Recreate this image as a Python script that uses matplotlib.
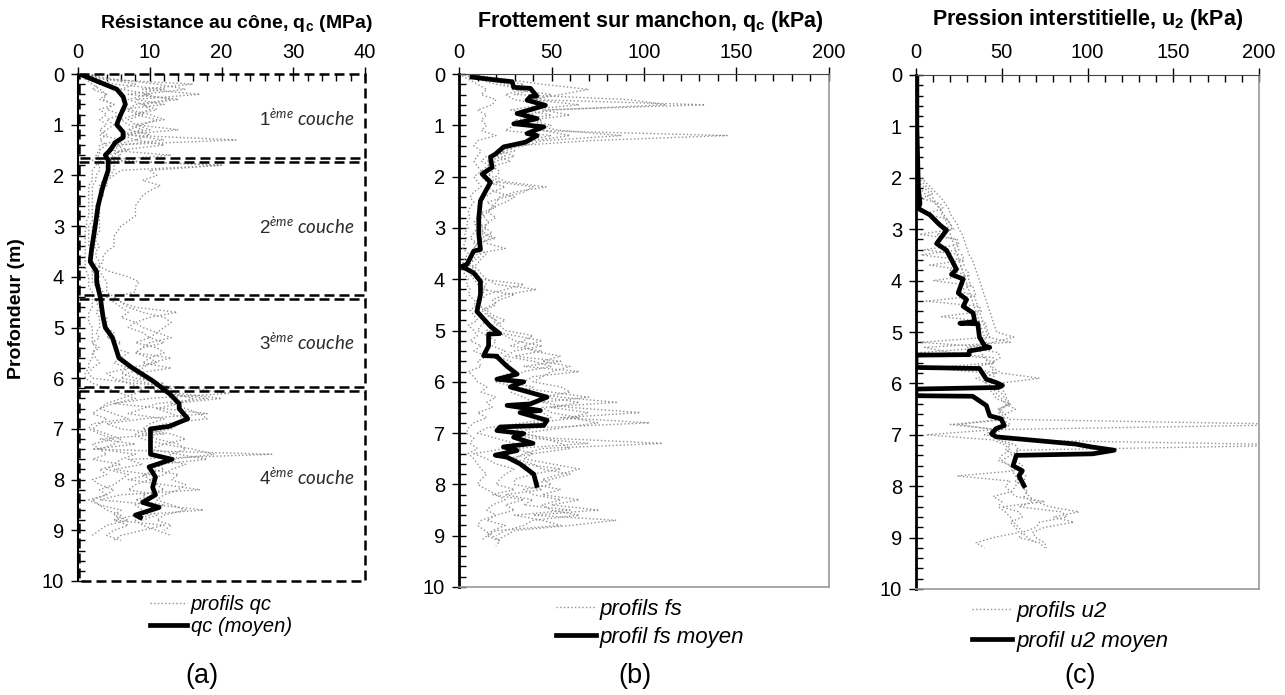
import numpy as np
import matplotlib
matplotlib.use("Agg")
import matplotlib.pyplot as plt
from matplotlib.lines import Line2D
from matplotlib.patches import Rectangle
from matplotlib.ticker import MultipleLocator

plt.rcParams['font.family'] = ['Liberation Sans', 'DejaVu Sans']
plt.rcParams['mathtext.fontset'] = 'custom'
plt.rcParams['mathtext.rm'] = 'Liberation Sans'
plt.rcParams['mathtext.bf'] = 'Liberation Sans:bold'
plt.rcParams['mathtext.it'] = 'Lato:italic'

nan = np.nan
# profondeurs communes des profils individuels (pas de 0.1 m)
depth_grid = np.round(np.arange(0, 9.25, 0.1), 1)

# ---------- (a) qc ----------
qc_mean_z = [0, 0.3, 0.45, 0.6, 0.85, 1.0, 1.15, 1.25, 1.35, 1.5, 1.6, 1.7, 1.9, 2.2, 2.6, 3.0,
             3.45, 3.7, 3.9, 4.1, 4.4, 4.8, 5.0, 5.2, 5.6, 5.8, 6.05, 6.3, 6.5, 6.6, 6.8, 6.95,
             7.0, 7.5, 7.6, 7.75, 7.95, 8.15, 8.3, 8.45, 8.55, 8.7, 8.75]
qc_mean = [0.2, 5.4, 6.3, 6.6, 5.8, 5.4, 6.3, 6.3, 5.2, 4.5, 3.8, 4.2, 4.2, 3.5, 2.8, 2.4,
           1.9, 1.7, 2.6, 2.6, 3.1, 3.5, 3.8, 4.8, 5.7, 7.6, 10.4, 12.7, 14.1, 14.1, 15.3, 12.7,
           10.1, 10.1, 13.1, 9.9, 10.8, 10.4, 10.8, 9.0, 11.3, 8.0, 8.7]

qc_p1 = [0.5, 3, 16, 9, 17, 8, 12, 6, 9, 7,
         8, 14, 6, 22, 5, 4, 13, 4, 20, 6,
         5, 4, 4, 3, 3, 3, 3, 2.5, 2.5, 2.5,
         2.5, 2.5, 2, 2, 2, 2, 2, 2, 3, 2,
         3, 2.5, 2.5, 3, 4, 3, 3, 2.5, 3, 3,
         3, 2.5, 3, 2, 3, 2, 2.5, 3, 2, 1.5,
         2, 8, 16, 21, 10, 5, 12, 18, 9, 4,
         6, 12, 3, 8, 2, 27, 7, 9, 5, 10,
         7, 12, 17, 6, 3, 11, 17.5, 8, 5, 12,
         9, 6, 5]
qc_p2 = [0.3, 2, 5, 12, 7, 14, 9, 10, 8, 11,
         9, 7, 10, 8, 12, 6, 5, 4, 20, 10,
         11, 9, 11.5, 10, 9, 8.5, 8, 8, 8, 7,
         6, 5.5, 5, 5, 5, 4, 3.5, 3.5, 3, 4.5,
         7, 8.5, 8, 8, 5, 6, 8, 13.8, 10, 8,
         9, 11, 10, 12, 9, 8, 13, 10, 9, 7,
         6, 10, 12, 13, 16, 14, 11, 13, 15, 14,
         13, 9, 11, 14, 15, 13, 12, 15, 13, 12,
         10, 11, 12, 9, 10, 8, 9, 10, 8, 9,
         11, 13, nan]
qc_p3 = [0.2, 1, 2, 3, 4, 3.5, 5, 4, 6, 4,
         5, 4, 3, 6, 3, 3, 2.5, 3, 2.5, 2,
         2, 2, 1.5, 1.5, 1.5, 1.5, 1.5, 1.5, 1.5, 1.2,
         1.2, 1, 1, 1, 1, 1, 1, 1, 1, 1.2,
         1.5, 1.5, 1.5, 2, 2, 2, 2, 1.5, 1.5, 1.5,
         2, 2, 2, 2, 2.5, 2, 2, 1.5, 1.5, 1,
         1, 2, 4, 6, 8, 5, 3, 2, 4, 3,
         2, 4, 6, 5, 3, 8, 6, 5, 4, 7,
         6, 5, 3, 4, 2, 3, 6, 5, 7, 4,
         3, 2, nan]
qc_p4 = [0.4, 4, 8, 6, 10, 7, 9, 11, 8, 6,
         7, 9, 6, 8, 5, 7, 4, 3, 4, 4,
         4, 3.5, 3, 3, 3, 3, 2.5, 2.5, 2.5, 2.5,
         2, 2, 2, 2, 2.5, 2, 2, 2, 2, 2.5,
         2.5, 3, 3, 3.5, 4, 5, 6, 7, 6, 8,
         7, 9, 10, 8, 11, 12, 10, 9, 13, 8,
         9, 11, 13, 12, 18, 11, 9, 7, 12, 10,
         9, 13, 15, 12, 10, 14, 18, 11, 12, 9,
         10, 8, 7, 11, 8, 12, 10, 11, 9, nan,
         nan, nan, nan]
qc_p5 = [0.2, 1.5, 3, 2, 4, 3, 5, 3, 4, 3,
         4, 3, 4, 3, 4, 3, 3, 2, 3, 3,
         2.5, 2.5, 2, 2, 2, 2, 2, 2, 2, 2,
         1.5, 1.5, 1.5, 1.5, 1.5, 2, 1.5, 1.5, 2, 2,
         2, 2, 2.5, 3, 3, 2.5, 3, 3, 4, 4,
         4, 5, 4, 6, 5, 7, 6, 5, 7, 4,
         5, 7, 9, 8, 6, 4, 3, 5, 7, 2,
         1.5, 3, 5, 2, 3, 4, 2, 6, 3, 4,
         2, 3, 5, 4, 1.5, 3, 4, 6, 5, 7,
         5, 4, 6]
qc_p6 = [0.3, 5, 11, 15, 9, 13, 8, 7, 10, 12,
         8, 10, 7, 12, 6, 5, 6, 4, 5, 5,
         4.5, 4, 4, 3.5, 3.5, 3, 3, 3, 3, 3,
         3, 3, 2.5, 2.5, 3, 2.5, 2.5, 3, 3, 3,
         3.5, 4, 4, 4, 5, 6, 7, 9, 12, 13,
         12, 11, 13, 10, 9, 8, 10, 11, 7, 6,
         8, 12, 10, 14, 20, 13, 15, 17, 18, 12,
         10, 8, 9, 12, 16, 19, 13, 12, 10, 14,
         13, 15, 14, 12, 11, 13, 15, 12, 11, 13,
         12, nan, nan]

# couches (haut, bas) en m
layer_top = [0, 1.73, 4.44, 6.25]
layer_bot = [1.65, 4.36, 6.17, 10]
layer_labels = [r'$\mathit{1^{ème}}$ couche', r'$\mathit{2^{ème}}$ couche',
                r'$\mathit{3^{ème}}$ couche', r'$\mathit{4^{ème}}$ couche']
layer_label_z = [0.87, 3.0, 5.29, 7.95]

# ---------- (b) fs ----------
fs_mean_z = [0.06, 0.12, 0.15, 0.26, 0.28, 0.43, 0.44, 0.51, 0.61, 0.77, 0.87, 0.97, 1.03, 1.16,
             1.2, 1.33, 1.42, 1.56, 1.62, 1.82, 1.95, 2.11, 2.47, 2.8, 3.12, 3.42, 3.45, 3.71,
             3.75, 3.88, 4.04, 4.3, 4.63, 4.92, 5.06, 5.07, 5.3, 5.49, 5.5, 5.51, 5.7, 5.85,
             5.95, 6.0, 6.1, 6.3, 6.43, 6.46, 6.56, 6.6, 6.75, 6.85, 6.88, 6.95, 7.01, 7.08,
             7.2, 7.27, 7.34, 7.43, 7.47, 7.6, 7.8, 8.02]
fs_mean = [7, 20.6, 28.7, 29.6, 38.6, 42, 38.6, 36.8, 46.7, 31.4, 42.2, 29.6, 45.8, 36.8,
           42.2, 35.9, 24.2, 19.7, 17, 17.9, 12.5, 17, 11.6, 10.7, 10.7, 11.6, 8, 4.3,
           1.6, 8, 11.6, 11.6, 9.7, 17, 22, 16, 16, 13.3, 20.5, 20.5, 26, 31.4,
           20.5, 35, 27.7, 47.6, 38.6, 26, 44, 33, 47.6, 45.8, 22.3, 20.5, 35, 29.5,
           40, 24, 31.4, 19.6, 26, 33, 40.4, 42]

fs_p1 = [2, 20, 35, 28, 50, 40, 133, 45, 60, 38,
         50, 40, 145, 70, 30, 25, 20, 28, 18, 22,
         20, 25, 47, 30, 22, 20, 18, 16, 20, 15,
         14, 18, 12, 15, 25, 10, 8, 6, 10, 12,
         15, 20, 42, 25, 18, 20, 14, 16, 20, 22,
         25, 40, 35, 28, 45, 30, 55, 35, 65, 40,
         35, 30, 50, 70, 45, 60, 98, 55, 103, 40,
         30, 50, 110, 45, 35, 30, 40, 45, 60, 50,
         40, 55, 45, 65, 50, 75, 40, 85, 60, 30,
         25, 20, nan]
fs_p2 = [5, 15, 25, 40, 30, 92, 112, 50, 35, 45,
         40, 55, 88, 45, 35, 20, 25, 15, 20, 18,
         15, 20, 40, 35, 25, 15, 20, 12, 14, 16,
         12, 14, 20, 10, 8, 12, 10, 5, 8, 10,
         12, 35, 25, 15, 12, 10, 15, 18, 25, 20,
         18, 25, 30, 45, 30, 25, 40, 50, 35, 30,
         25, 40, 35, 55, 85, 45, 50, 65, 40, 35,
         25, 40, 70, 30, 40, 25, 35, 55, 40, 30,
         30, 45, 25, 40, 35, 60, 30, 45, 55, 20,
         15, 22, 20]
fs_p3 = [0, 5, 10, 15, 12, 20, 18, 10, 15, 12,
         15, 12, 20, 10, 8, 12, 10, 8, 10, 12,
         8, 10, 12, 8, 6, 8, 6, 5, 6, 4,
         5, 3, 4, 3, 2, 5, 3, 2, 2, 3,
         5, 4, 6, 5, 8, 10, 6, 8, 10, 5,
         8, 10, 6, 12, 8, 15, 10, 12, 5, 8,
         10, 15, 12, 20, 15, 18, 10, 15, 8, 5,
         4, 8, 6, 10, 5, 8, 10, 12, 15, 12,
         10, 15, 20, 25, 18, 15, 20, 12, 10, 14,
         18, 22, nan]
fs_p4 = [3, 25, 45, 70, 55, 40, 65, 35, 50, 30,
         35, 45, 60, 40, 28, 22, 30, 20, 15, 12,
         18, 22, 15, 20, 30, 25, 18, 15, 12, 10,
         15, 12, 18, 8, 10, 15, 12, 10, 6, 8,
         10, 15, 12, 30, 22, 18, 12, 15, 20, 18,
         15, 30, 45, 35, 40, 55, 45, 60, 50, 45,
         40, 55, 60, 45, 65, 50, 70, 60, 75, 55,
         35, 45, 55, 60, 40, 35, 50, 65, 55, 45,
         50, 35, 40, 55, 45, 50, 65, 40, 35, 25,
         20, nan, nan]
fs_p5 = [1, 10, 20, 35, 25, 30, 45, 28, 40, 35,
         30, 25, 50, 35, 25, 30, 15, 12, 18, 14,
         12, 15, 25, 18, 14, 12, 10, 12, 10, 8,
         10, 8, 6, 10, 12, 8, 6, 4, 5, 6,
         8, 10, 15, 12, 10, 8, 10, 12, 15, 12,
         10, 15, 20, 18, 25, 20, 28, 25, 30, 22,
         20, 30, 28, 35, 40, 30, 45, 50, 35, 15,
         10, 20, 30, 25, 8, 15, 20, 30, 25, 22,
         20, 30, 18, 35, 25, 30, 20, 15, 25, 18,
         15, 12, nan]

# ---------- (c) u2 ----------
u2_mean_z = [0, 1.0, 2.2, 2.5, 2.6, 2.72, 2.92, 3.02, 3.28, 3.41, 3.78, 3.88, 3.97, 4.24, 4.37,
             4.5, 4.63, 4.8, 4.83, 4.84, 5.1, 5.27, 5.3, 5.37, 5.44, 5.45, 5.69, 5.71, 5.92,
             5.98, 6.04, 6.08, 6.11, 6.24, 6.25, 6.43, 6.63, 6.69, 6.82, 6.88, 6.98, 7.04,
             7.18, 7.24, 7.3, 7.37, 7.4, 7.6, 7.7, 7.8, 7.99]
u2_mean = [0.5, 0.5, 1.4, 2.3, 1.4, 8, 14, 17.8, 12, 17.8, 23.6, 20.7, 27.5, 24.6, 29.5,
           27.5, 33.3, 34.3, 25.6, 36, 37, 40, 43, 31, 31, 0, 0, 37, 41,
           46.5, 50.4, 48, 0, 0, 33, 41, 43, 49.6, 51.5, 46.7, 44, 46.7,
           93, 103, 115.6, 103, 58.5, 56.6, 62, 60, 63]

u2_p1 = [nan] * 20 + [
         3, 6, 9, 12, 15, 17, 19, 20, 22, 24,
         25, 27, 28, 29, 30, 31, 33, 34, 35, 36,
         37, 38, 39, 40, 41, 42, 43, 44, 45, 46,
         47, 57, 45, 30, 48, 49, 44, 45, 50, 72,
         48, 50, 52, 53, 55, 48, 52, 54, 230, 45,
         40, 55, 230, 58, 60, 58, 62, 60, 64, 63,
         62, 64, 66, 70, 78, 95, 80, 92, 75, 68,
         70, 75, 76]
u2_p2 = [nan] * 20 + [
         1, 4, 7, 10, 3, 14, 16, 5, 18, 20,
         22, 2, 24, 25, 5, 27, 28, 8, 30, 31,
         10, 33, 34, 35, 6, 37, 38, 15, 40, 41,
         42, 43, 3, 44, 2, 40, 45, 8, 42, 44,
         40, 42, 45, 47, 55, 48, 50, 52, 25, 46,
         6, 45, 52, 55, 50, 48, 55, 58, 24, 55,
         52, 55, 58, 75, 50, 60, 62, 55, 58, 60,
         45, 35, 40]
u2_p3 = [nan] * 20 + [
         0, 2, 5, 8, 10, 12, 14, 15, 17, 18,
         19, 20, 21, 22, 23, 24, 25, 26, 27, 28,
         29, 30, 31, 32, 33, 34, 35, 36, 37, 38,
         39, 40, 41, 36, 38, 40, 42, 44, 46, 45,
         44, 46, 50, 52, 54, 50, 48, 50, 20, 48,
         45, 50, 58, 60, 55, 50, 55, 56, 58, 60,
         58, 56, 45, 50, 48, 52, 55, 57, 60, 62,
         65, 70, nan]
u2_p4 = [nan] * 20 + [
         0, 0, 2, 5, 8, 11, 14, 16, 18, 20,
         21, 12, 23, 24, 25, 3, 27, 28, 20, 30,
         31, 32, 25, 34, 35, 36, 37, 38, 39, 40,
         41, 42, 55, 5, 20, 45, 46, 30, 47, 35,
         42, 45, 47, 50, 52, 58, 52, 50, 55, 50,
         45, 48, 55, 52, 60, 56, 58, 60, 62, 58,
         62, 65, 63, 68, 60, 85, 88, 72, 70, 62,
         60, 72, 75]

GREY = '#909090'

fig = plt.figure(figsize=(12.85, 6.95), dpi=100)
W, H = 1285.0, 695.0


def add_ax(l, r, t, b):
    return fig.add_axes([l / W, 1 - b / H, (r - l) / W, (b - t) / H])


def style_ax(ax, xmax, xmaj, xmin):
    ax.set_xlim(0, xmax)
    ax.set_ylim(10, 0)
    ax.xaxis.tick_top()
    ax.xaxis.set_major_locator(MultipleLocator(xmaj))
    ax.xaxis.set_minor_locator(MultipleLocator(xmin))
    ax.yaxis.set_major_locator(MultipleLocator(1))
    ax.yaxis.set_minor_locator(MultipleLocator(0.2))
    ax.tick_params(which='major', direction='inout', length=10, width=1, labelsize=14.5, pad=5)
    ax.tick_params(which='minor', direction='in', length=5, width=1)
    ax.tick_params(axis='x', which='major', pad=4)


axa = add_ax(78, 365, 74, 581)
axb = add_ax(459, 829, 74, 587)
axc = add_ax(916, 1259, 75, 589)

# (a)
for p in [qc_p1, qc_p2, qc_p3, qc_p4, qc_p5, qc_p6]:
    axa.plot(p, depth_grid, ls=':', color=GREY, lw=1.0)
axa.plot(qc_mean, qc_mean_z, color='black', lw=3.4, solid_joinstyle='round')
style_ax(axa, 40, 10, 2)
for s in ['top', 'right', 'bottom']:
    axa.spines[s].set_visible(False)
axa.spines['left'].set_linewidth(1.5)
for zt, zb, lab, zl in zip(layer_top, layer_bot, layer_labels, layer_label_z):
    axa.add_patch(Rectangle((0.15, zt), 40 - 0.15, zb - zt, fill=False, ls=(0, (4, 2)),
                            lw=1.8, ec='black', clip_on=False, zorder=5))
    axa.text(31.8, zl, lab, fontsize=13.5, fontstyle='italic', family=['Lato', 'DejaVu Sans'],
             ha='center', va='center', color='#2a2a2a')

# (b)
for p in [fs_p1, fs_p2, fs_p3, fs_p4, fs_p5]:
    axb.plot(p, depth_grid, ls=':', color=GREY, lw=1.0)
axb.plot(fs_mean, fs_mean_z, color='black', lw=3.4)
style_ax(axb, 200, 50, 10)

# (c)
for p in [u2_p1, u2_p2, u2_p3, u2_p4]:
    axc.plot(p, depth_grid, ls=':', color=GREY, lw=1.0)
axc.plot(u2_mean, u2_mean_z, color='black', lw=3.4)
style_ax(axc, 200, 50, 10)

for ax in [axb, axc]:
    ax.spines['left'].set_linewidth(2)
    ax.spines['top'].set_color('#444444')
    ax.spines['right'].set_color('#999999')
    ax.spines['bottom'].set_color('#999999')
    ax.spines['right'].set_linewidth(1.2)
    ax.spines['bottom'].set_linewidth(1.2)

# titres
fig.text(236 / W, 1 - 23 / H, r'Résistance au cône, $\mathbf{q_c}$ (MPa)', fontsize=14,
         fontweight='bold', ha='center', va='center')
fig.text(650 / W, 1 - 21 / H, r'Frottement sur manchon, $\mathbf{q_c}$ (kPa)', fontsize=15.5,
         fontweight='bold', ha='center', va='center')
fig.text(1088 / W, 1 - 20 / H, r'Pression interstitielle, $\mathbf{u_2}$ (kPa)', fontsize=15.5,
         fontweight='bold', ha='center', va='center')
fig.text(17 / W, 1 - 309 / H, 'Profondeur (m)', fontsize=14, fontweight='bold',
         rotation=90, ha='center', va='center')

# légendes
legends = [(axa, 'profils qc', 'qc (moyen)', 221, 585, 0.15, 14.5),
           (axb, 'profils fs', 'profil fs moyen', 650, 588, 0.3, 16),
           (axc, 'profils u2', 'profil u2 moyen', 1070, 590, 0.4, 16)]
for ax, l1, l2, cx, top, sp, fs in legends:
    h = [Line2D([], [], ls=':', color=GREY, lw=1.0), Line2D([], [], color='black', lw=3.4)]
    ax.legend(h, [l1, l2], loc='upper center', bbox_to_anchor=(cx / W, 1 - top / H),
              bbox_transform=fig.transFigure, frameon=False, handlelength=1.8,
              handletextpad=0.2, labelspacing=sp, borderpad=0,
              prop={'size': fs, 'style': 'italic'})

for lab, cx in [('(a)', 202), ('(b)', 635), ('(c)', 1080)]:
    fig.text(cx / W, 1 - 676 / H, lab, fontsize=19.5, ha='center', va='center')

fig.savefig('out.png', dpi=100)
